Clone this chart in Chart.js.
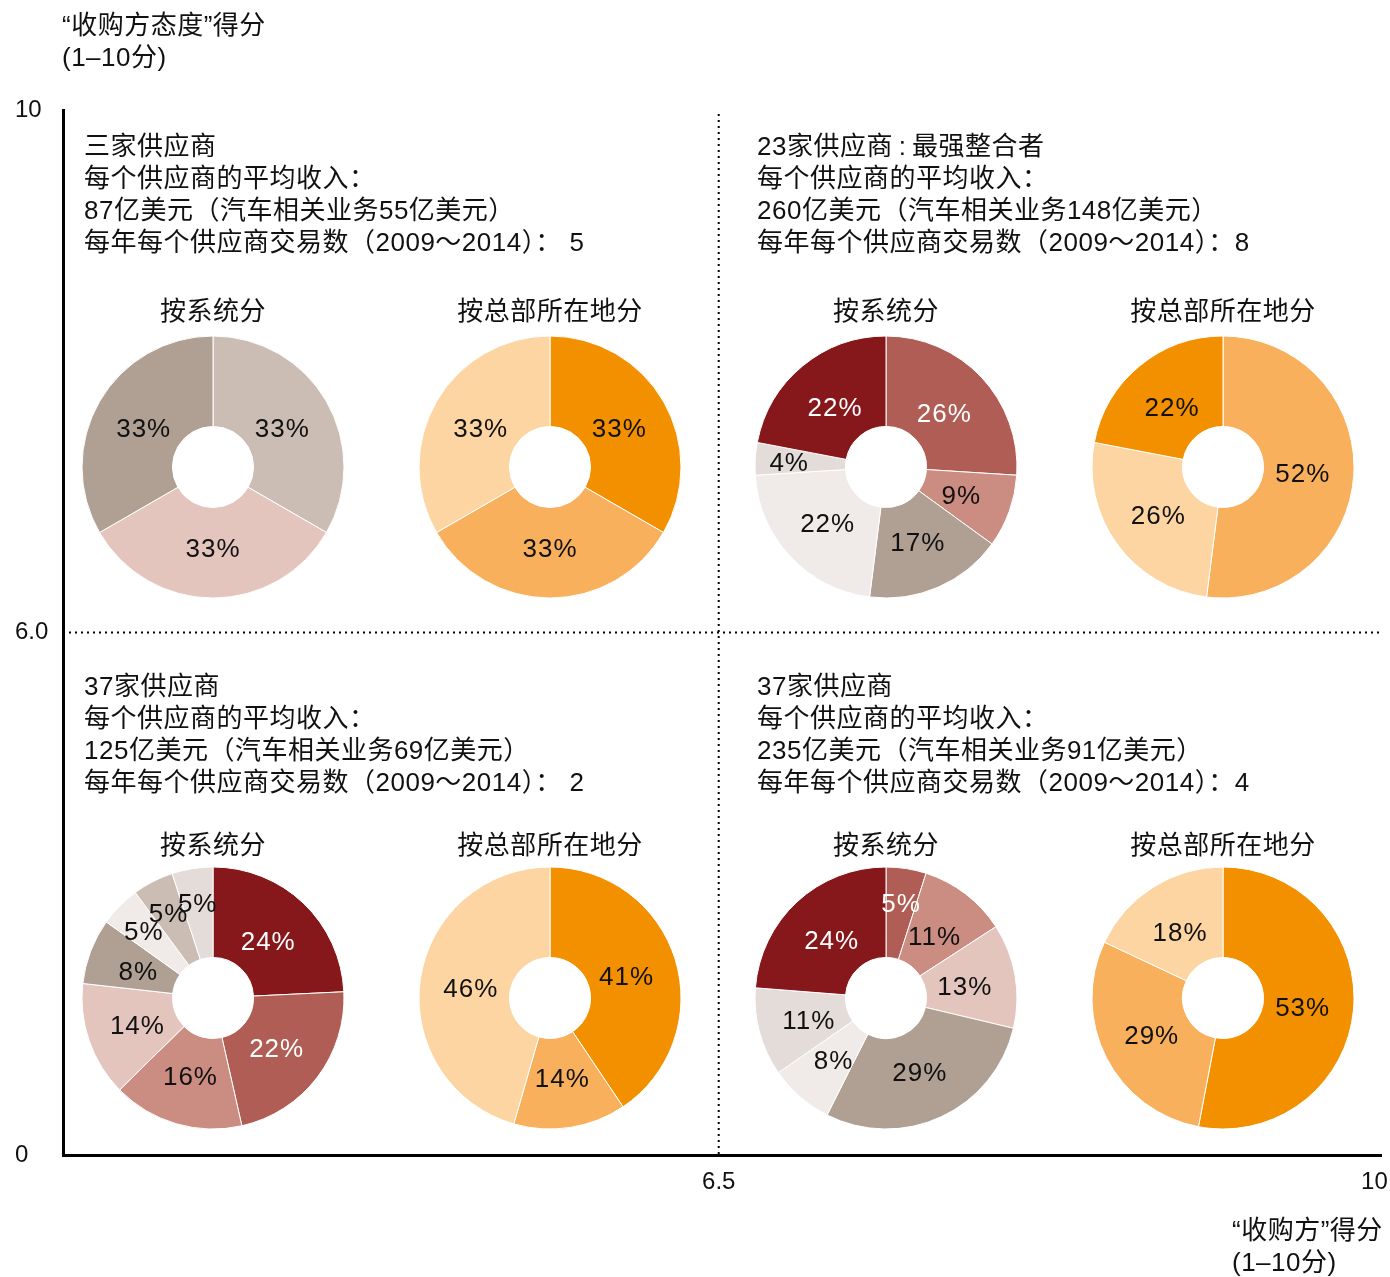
<!DOCTYPE html>
<html>
<head>
<meta charset="utf-8">
<script src="https://cdn.jsdelivr.net/npm/chart.js@4"></script>
<style>
  body { margin: 0; background: #fff; }
  #wrap { position: relative; width: 1390px; height: 1277px; font-family: "Liberation Sans", "Noto Sans CJK SC", sans-serif; color: #111; }
  #wrap canvas { position: absolute; }
  .txt { position: absolute; font-size: 26px; line-height: 32px; white-space: nowrap; letter-spacing: 0.5px; }
  .sub { position: absolute; font-size: 26px; line-height: 32px; white-space: nowrap; transform: translateX(-50%); letter-spacing: 0.5px; }
</style>
</head>
<body>
<div id="wrap">
  <canvas id="axes" width="1390" height="1277" style="left:0;top:0"></canvas>
</div>
<script>
// axis ticks (the axis is conceptual: three evenly spaced marks)
const yTickLabels = ['0', '6.0', '10'];
const xTickLabels = ['', '6.5', '10'];
const splitX = 1;   // 6.5
const splitY = 1;   // 6.0

const yTitle = ['“收购方态度”得分', '(1–10分)'];
const xTitle = ['“收购方”得分', '(1–10分)'];

const tlLines = ['三家供应商', '每个供应商的平均收入：', '87亿美元（汽车相关业务55亿美元）', '每年每个供应商交易数（2009～2014）： 5'];
const trLines = ['23家供应商\u2009:\u2009最强整合者', '每个供应商的平均收入：', '260亿美元（汽车相关业务148亿美元）', '每年每个供应商交易数（2009～2014）：8'];
const blLines = ['37家供应商', '每个供应商的平均收入：', '125亿美元（汽车相关业务69亿美元）', '每年每个供应商交易数（2009～2014）： 2'];
const brLines = ['37家供应商', '每个供应商的平均收入：', '235亿美元（汽车相关业务91亿美元）', '每年每个供应商交易数（2009～2014）：4'];

const pieTitles = ['按系统分', '按总部所在地分'];

const tlSystem = [33, 33, 33];
const tlHq = [33, 33, 33];
const trSystem = [26, 9, 17, 22, 4, 22];
const trHq = [52, 26, 22];
const blSystem = [24, 22, 16, 14, 8, 5, 5, 5];
const blHq = [41, 14, 46];
const brSystem = [5, 11, 13, 29, 8, 11, 24];
const brHq = [53, 29, 18];

// colours
const darkRed = '#86171A', redMid = '#B05E55', salmon = '#CB8C82', pink = '#E3C5BE';
const taupe = '#B0A094', beige = '#CBBDB4', veryLight = '#E3DCD8', nearWhite = '#F0EBE8';
const orDark = '#F39000', orMid = '#F8B05C', orLight = '#FCD5A2';
const whiteText = [darkRed, redMid];

const font = '"Liberation Sans", "Noto Sans CJK SC", sans-serif';

// main axes
const quadLines = {
  id: 'quadLines',
  beforeDatasetsDraw(chart) {
    const {ctx, chartArea, scales} = chart;
    const px = scales.x.getPixelForValue(splitX);
    const py = scales.y.getPixelForValue(splitY);
    ctx.save();
    ctx.strokeStyle = '#000';
    ctx.lineWidth = 2;
    ctx.setLineDash([2, 4]);
    ctx.beginPath();
    ctx.moveTo(px, chartArea.top + 4);
    ctx.lineTo(px, chartArea.bottom);
    ctx.moveTo(chartArea.left, py);
    ctx.lineTo(chartArea.right, py);
    ctx.stroke();
    ctx.restore();
  }
};

new Chart(document.getElementById('axes'), {
  type: 'scatter',
  data: { datasets: [{ data: [] }] },
  options: {
    responsive: false,
    animation: false,
    layout: { padding: { left: 15, top: 110, right: 0, bottom: 0 } },
    plugins: { legend: { display: false }, tooltip: { enabled: false } },
    scales: {
      x: {
        type: 'linear', min: 0, max: 2.01,
        grid: { display: false, drawTicks: false },
        border: { display: true, color: '#000', width: 3 },
        afterBuildTicks(s) { s.ticks = xTickLabels.map((_, i) => ({ value: i })); },
        ticks: { padding: 13, color: '#111', font: { family: font, size: 24 },
          callback: (v) => xTickLabels[v] },
        afterFit(s) { s.height = 122; s.paddingRight = 9; s.paddingLeft = 0; }
      },
      y: {
        type: 'linear', min: 0, max: 2,
        grid: { display: false, drawTicks: false },
        border: { display: true, color: '#000', width: 3 },
        ticks: { stepSize: 1, crossAlign: 'far', color: '#111', font: { family: font, size: 24 },
          callback: (v) => yTickLabels[v] },
        afterFit(s) { s.width = 48; }
      }
    }
  },
  plugins: [quadLines]
});

const wrap = document.getElementById('wrap');

function addText(lines, left, top, cls) {
  const d = document.createElement('div');
  d.className = cls || 'txt';
  d.style.left = left + 'px';
  d.style.top = top + 'px';
  d.innerHTML = lines.join('<br>');
  wrap.appendChild(d);
}

addText(yTitle, 62, 9);
addText(xTitle, 1232, 1214);
addText(tlLines, 84, 130);
addText(trLines, 757, 130);
addText(blLines, 84, 670);
addText(brLines, 757, 670);

// pie labels drawn on the ring
const ringLabels = {
  id: 'ringLabels',
  afterDatasetsDraw(chart) {
    const {ctx} = chart;
    const ds = chart.data.datasets[0];
    const meta = chart.getDatasetMeta(0);
    ctx.save();
    ctx.font = '26px ' + font;
    ctx.letterSpacing = '1px';
    ctx.textAlign = 'center';
    ctx.textBaseline = 'middle';
    meta.data.forEach((arc, i) => {
      const p = arc.getProps(['x', 'y', 'startAngle', 'endAngle']);
      const a = (p.startAngle + p.endAngle) / 2;
      const v = ds.data[i];
      const r = v <= 5 ? 97 : 80;
      ctx.fillStyle = whiteText.includes(ds.backgroundColor[i]) ? '#fff' : '#111';
      ctx.fillText(v + '%', p.x + Math.cos(a) * r, p.y + Math.sin(a) * r + 3);
    });
    ctx.restore();
  }
};

function addPie(values, colors, cx, cy) {
  const size = 266;
  const c = document.createElement('canvas');
  c.width = size; c.height = size;
  c.style.left = (cx - size / 2) + 'px';
  c.style.top = (cy - size / 2) + 'px';
  wrap.appendChild(c);
  new Chart(c, {
    type: 'doughnut',
    data: { datasets: [{ data: values, backgroundColor: colors, borderColor: '#fff', borderWidth: 1 }] },
    options: {
      responsive: false,
      animation: false,
      radius: 131,
      cutout: 41,
      layout: { padding: 0 },
      plugins: { legend: { display: false }, tooltip: { enabled: false } }
    },
    plugins: [ringLabels]
  });
}

const colX = [213, 550, 886, 1223];
const rowY = [467, 998];

addPie(tlSystem, [beige, pink, taupe], colX[0], rowY[0]);
addPie(tlHq, [orDark, orMid, orLight], colX[1], rowY[0]);
addPie(trSystem, [redMid, salmon, taupe, nearWhite, veryLight, darkRed], colX[2], rowY[0]);
addPie(trHq, [orMid, orLight, orDark], colX[3], rowY[0]);
addPie(blSystem, [darkRed, redMid, salmon, pink, taupe, nearWhite, beige, veryLight], colX[0], rowY[1]);
addPie(blHq, [orDark, orMid, orLight], colX[1], rowY[1]);
addPie(brSystem, [redMid, salmon, pink, taupe, nearWhite, veryLight, darkRed], colX[2], rowY[1]);
addPie(brHq, [orDark, orMid, orLight], colX[3], rowY[1]);

[[0, 0], [1, 0], [2, 0], [3, 0], [0, 1], [1, 1], [2, 1], [3, 1]].forEach(([ci, ri]) => {
  const d = document.createElement('div');
  d.className = 'sub';
  d.style.left = colX[ci] + 'px';
  d.style.top = (ri === 0 ? 295 : 829) + 'px';
  d.textContent = pieTitles[ci % 2];
  wrap.appendChild(d);
});
</script>
</body>
</html>
